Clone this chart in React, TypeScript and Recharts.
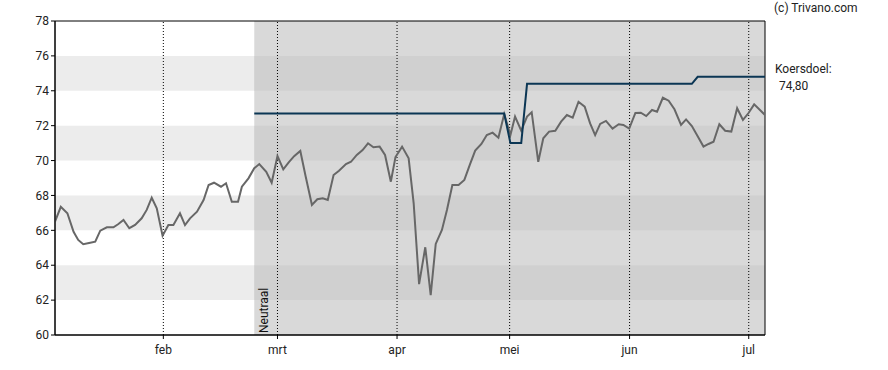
import React from 'react';
import { LineChart, Line, XAxis, YAxis, ReferenceArea, ReferenceLine } from 'recharts';

// Time position of each trading point, in days from 1 jan
const days = [
  2.8, 4.3, 6.0, 7.6, 8.8, 10.1, 11.6, 13.2, 14.5, 16.2, 17.9, 19.1, 20.5, 22.0, 23.5, 25.2, 26.5, 27.8, 29.1, 30.6,
  32.1, 33.4, 35.1, 36.4, 37.7, 39.5, 41.2, 42.5, 43.9, 45.7, 47.0, 48.5, 50.1, 51.1, 52.8, 54.3, 55.6, 57.4, 58.8, 60.3,
  61.8, 63.2, 64.6, 66.2, 67.6, 69.2, 70.6, 72.0, 73.3, 74.8, 76.2, 78.0, 79.3, 80.8, 82.3, 83.7, 85.1, 86.7, 88.1, 89.6,
  90.8, 92.5, 94.2, 95.5, 96.9, 98.5, 99.9, 101.2, 102.8, 104.1, 105.5, 107.1, 108.6, 110.0, 111.4, 113.0, 114.4, 115.9, 117.4, 118.9,
  120.5, 121.7, 123.3, 124.8, 126.0, 127.7, 129.0, 130.5, 132.1, 133.6, 135.1, 136.6, 138.1, 139.7, 141.1, 142.4, 143.7, 145.2, 146.9, 148.5,
  149.7, 151.2, 152.8, 154.2, 155.6, 157.1, 158.4, 159.9, 161.4, 162.9, 164.6, 165.9, 167.4, 168.9, 170.4, 171.7, 173.0, 174.5, 176.0, 177.6,
  179.1, 180.6, 182.0, 183.5, 185.0, 186.3,
];

const price = [
  66.5, 67.35, 66.98, 65.92, 65.45, 65.2, 65.27, 65.35, 65.98, 66.17, 66.17, 66.35, 66.59, 66.12, 66.31, 66.69, 67.17, 67.87, 67.26, 65.69,
  66.31, 66.31, 66.98, 66.3, 66.69, 67.07, 67.74, 68.6, 68.73, 68.5, 68.7, 67.64, 67.64, 68.5, 68.98, 69.56, 69.8, 69.36, 68.73, 70.26,
  69.5, 69.9, 70.25, 70.55, 69.07, 67.45, 67.78, 67.84, 67.74, 69.17, 69.42, 69.8, 69.93, 70.32, 70.6, 70.99, 70.76, 70.8, 70.32, 68.79,
  70.2, 70.8, 70.13, 67.55, 62.92, 65.03, 62.29, 65.22, 66.02, 67.17, 68.6, 68.6, 68.89, 69.75, 70.57, 70.95, 71.46, 71.6, 71.31, 72.67,
  71.46, 72.52, 71.71, 72.52, 72.77, 69.93, 71.28, 71.66, 71.71, 72.23, 72.61, 72.46, 73.37, 73.09, 72.13, 71.46, 72.1, 72.27, 71.83, 72.08,
  72.04, 71.83, 72.73, 72.74, 72.55, 72.9, 72.8, 73.6, 73.43, 72.94, 72.04, 72.36, 71.98, 71.4, 70.8, 70.95, 71.08, 72.08, 71.71, 71.66,
  73.0, 72.33, 72.71, 73.22, 72.9, 72.61,
];

// Koersdoel (price target) changes: day from which a value applies
const targetStartDays = [54.3, 120.5, 124.8, 168.9];
const targetValues = [72.7, 71.0, 74.4, 74.8];

// Month tick positions
const monthTicks = [30.8, 60.3, 91.2, 120.3, 151.3, 182.1];
const monthLabels = ['feb', 'mrt', 'apr', 'mei', 'jun', 'jul'];
const yTicks = [60, 62, 64, 66, 68, 70, 72, 74, 76, 78];
const bandLows = [62, 66, 70, 74];
const bandHighs = [64, 68, 72, 76];
const neutralStart = 54.3;
const neutralLabel = 'Neutraal';
const targetLabel = 'Koersdoel:';
const targetText = '74,80';
const targetLevel = 74.8;
const copyright = '(c) Trivano.com';

const xMin = days[0];
const xMax = days[days.length - 1];

const targetAt = (d: number): number | null => {
  let v: number | null = null;
  for (let i = 0; i < targetStartDays.length; i++) {
    if (d >= targetStartDays[i] - 0.01) v = targetValues[i];
  }
  return v;
};

const data = days.map((d, i) => ({ day: d, price: price[i], target: targetAt(d) }));

const FONT = 'Roboto, "Liberation Sans", Arial, sans-serif';

export default function App() {
  return (
    <div style={{ position: 'absolute', left: 0, top: 0, width: 888, height: 370, fontFamily: FONT }}>
      <div style={{ position: 'absolute', left: 774, top: 1, fontSize: 12, color: '#222', fontFamily: FONT }}>{copyright}</div>
      <LineChart width={888} height={370} data={data} margin={{ top: 21, right: 123, bottom: 0, left: 0 }}>
        {bandLows.map((lo, i) => (
          <ReferenceArea key={'wb' + i} x1={xMin} x2={neutralStart} y1={lo} y2={bandHighs[i]} fill="#ececec" fillOpacity={1} stroke="none" />
        ))}
        <ReferenceArea x1={neutralStart} x2={xMax} y1={60} y2={78} fill="#d9d9d9" fillOpacity={1} stroke="none" />
        {bandLows.map((lo, i) => (
          <ReferenceArea key={'gb' + i} x1={neutralStart} x2={xMax} y1={lo} y2={bandHighs[i]} fill="#d0d0d0" fillOpacity={1} stroke="none" />
        ))}
        {monthTicks.map((m) => (
          <ReferenceLine key={'v' + m} x={m} stroke="#000" strokeDasharray="1 2" strokeWidth={1} />
        ))}
        <ReferenceLine
          x={neutralStart}
          stroke="none"
          strokeOpacity={0}
          label={(props: any) => {
            const vb = props.viewBox || {};
            const x = (vb.x ?? 254) + 14;
            const y = (vb.y ?? 21) + (vb.height ?? 314) - 2;
            return (
              <text x={x} y={y} transform={`rotate(-90 ${x} ${y})`} fontSize={12} fill="#111" fontFamily={FONT} textAnchor="start">
                {neutralLabel}
              </text>
            );
          }}
        />
        <ReferenceLine
          y={targetLevel}
          stroke="none"
          strokeOpacity={0}
          label={(props: any) => {
            const vb = props.viewBox || {};
            const x = (vb.x ?? 55) + (vb.width ?? 710) + 10;
            const y = vb.y ?? 76;
            return (
              <g>
                <text x={x} y={y - 3.5} fontSize={12} fill="#222" fontFamily={FONT}>{targetLabel}</text>
                <text x={x + 4} y={y + 13.5} fontSize={12} fill="#222" fontFamily={FONT}>{targetText}</text>
              </g>
            );
          }}
        />
        <ReferenceArea x1={xMin} x2={xMax} y1={60} y2={78} fill="none" fillOpacity={0} stroke="#000" strokeWidth={1} />
        <XAxis
          dataKey="day"
          type="number"
          domain={[xMin, xMax]}
          ticks={monthTicks}
          tickFormatter={(v: number) => monthLabels[monthTicks.indexOf(v)] ?? ''}
          height={35}
          tickSize={4}
          tickMargin={6}
          axisLine={{ stroke: '#000' }}
          tickLine={{ stroke: '#000' }}
          tick={{ fill: '#222', fontSize: 12, fontFamily: FONT }}
          allowDataOverflow
        />
        <YAxis
          type="number"
          domain={[60, 78]}
          ticks={yTicks}
          width={55}
          tickSize={4}
          tickMargin={2}
          axisLine={{ stroke: '#000' }}
          tickLine={{ stroke: '#000' }}
          tick={{ fill: '#222', fontSize: 12, fontFamily: FONT }}
          allowDataOverflow
        />
        <Line type="linear" dataKey="price" stroke="#676767" strokeWidth={2} dot={false} isAnimationActive={false} />
        <Line type="linear" dataKey="target" stroke="#0b3654" strokeWidth={2} dot={false} isAnimationActive={false} connectNulls={false} />
      </LineChart>
    </div>
  );
}
